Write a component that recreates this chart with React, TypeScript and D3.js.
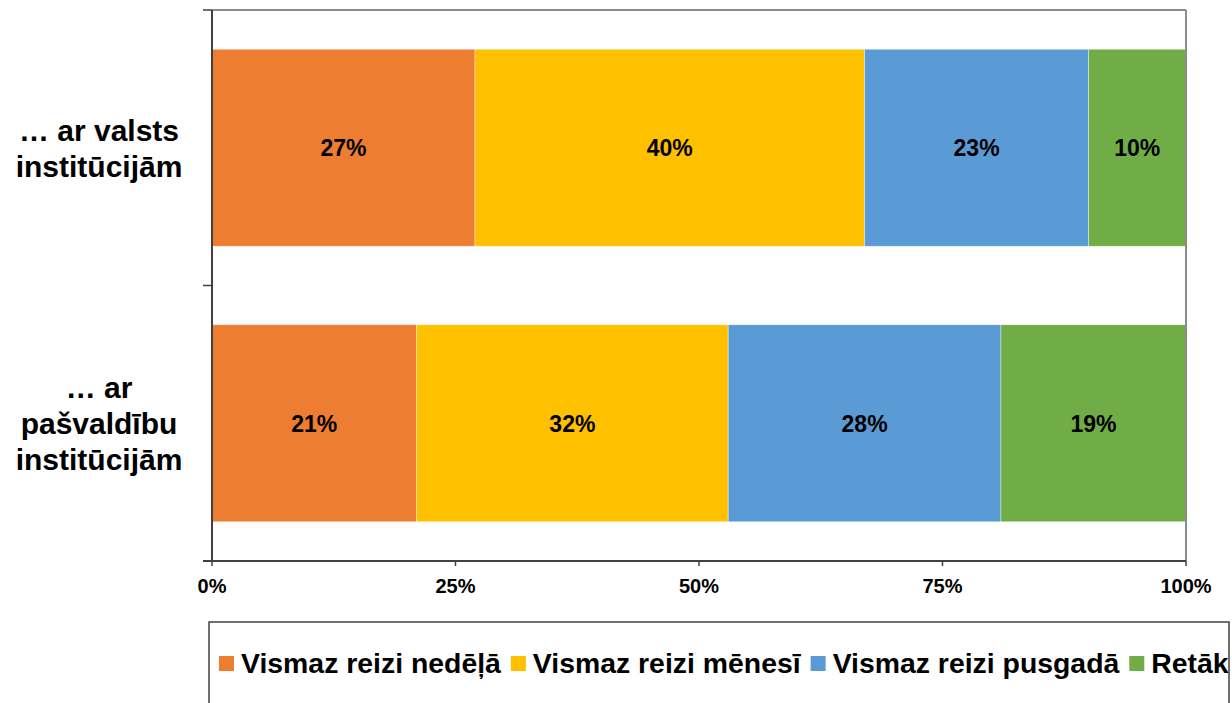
import React, { useEffect, useRef } from 'react';
import * as d3 from 'd3';

// chart data
const categories = ['valsts', 'pasvaldibu'];
const categoryLines = [
  ['… ar valsts', 'institūcijām'],
  ['… ar', 'pašvaldību', 'institūcijām'],
];
const seriesNames = ['Vismaz reizi nedēļā', 'Vismaz reizi mēnesī', 'Vismaz reizi pusgadā', 'Retāk'];
const seriesColors = ['#ED7D31', '#FFC000', '#5B9BD5', '#70AD47'];
const valstsValues = [27, 40, 23, 10];
const pasvaldibuValues = [21, 32, 28, 19];
const xTicks = [0, 25, 50, 75, 100];

const W = 1232;
const H = 703;
const FONT = '"Liberation Sans", Arial, sans-serif';

const App: React.FC = () => {
  const svgRef = useRef<SVGSVGElement>(null);

  useEffect(() => {
    if (!svgRef.current) return;
    const svg = d3.select(svgRef.current);
    svg.selectAll('*').remove();

    const plot = { left: 212, right: 1186, top: 10, bottom: 561 };

    const x = d3.scaleLinear().domain([0, 100]).range([plot.left, plot.right]);
    const y = d3.scaleBand<string>()
      .domain(categories)
      .range([plot.top, plot.bottom])
      .paddingInner(0.285)
      .paddingOuter(0.1425);

    const keys = seriesNames.map((_, i) => `s${i}`);
    const rows = [valstsValues, pasvaldibuValues].map((vals, ci) => {
      const r: any = { cat: categories[ci] };
      vals.forEach((v, i) => (r[`s${i}`] = v));
      return r;
    });
    const stacked = d3.stack<any>().keys(keys)(rows);

    svg.append('rect').attr('width', W).attr('height', H).attr('fill', '#fff');

    // bars
    stacked.forEach((layer, si) => {
      const g = svg.append('g');
      g.selectAll('rect')
        .data(layer)
        .enter()
        .append('rect')
        .attr('x', d => x(d[0]))
        .attr('y', d => y(d.data.cat)!)
        .attr('width', d => x(d[1]) - x(d[0]))
        .attr('height', y.bandwidth())
        .attr('fill', seriesColors[si])
        .attr('stroke', '#ffffff')
        .attr('stroke-opacity', 0.5)
        .attr('stroke-width', 0.75);

      g.selectAll('text')
        .data(layer)
        .enter()
        .append('text')
        .attr('x', d => (x(d[0]) + x(d[1])) / 2)
        .attr('y', d => y(d.data.cat)! + y.bandwidth() / 2)
        .attr('dy', '0.36em')
        .attr('text-anchor', 'middle')
        .attr('font-family', FONT)
        .attr('font-weight', 'bold')
        .attr('font-size', 23)
        .attr('fill', '#000')
        .text(d => `${d[1] - d[0]}%`);
    });

    // plot frame
    svg.append('line')
      .attr('x1', plot.left).attr('x2', plot.right)
      .attr('y1', plot.top).attr('y2', plot.top)
      .attr('stroke', '#8c8c8c').attr('stroke-width', 2);
    svg.append('line')
      .attr('x1', plot.right).attr('x2', plot.right)
      .attr('y1', plot.top).attr('y2', plot.bottom)
      .attr('stroke', '#8c8c8c').attr('stroke-width', 2);

    // y axis line + ticks at band boundaries
    svg.append('line')
      .attr('x1', plot.left).attr('x2', plot.left)
      .attr('y1', plot.top).attr('y2', plot.bottom)
      .attr('stroke', '#404040').attr('stroke-width', 2);
    const bounds = [plot.top, ...categories.slice(1).map(c => y(c)! - (y.step() - y.bandwidth()) / 2), plot.bottom];
    svg.selectAll('.ytick')
      .data(bounds)
      .enter()
      .append('line')
      .attr('x1', plot.left - 9).attr('x2', plot.left)
      .attr('y1', d => d).attr('y2', d => d)
      .attr('stroke', '#404040').attr('stroke-width', 1.5);

    // x axis
    svg.append('line')
      .attr('x1', plot.left - 9).attr('x2', plot.right)
      .attr('y1', plot.bottom).attr('y2', plot.bottom)
      .attr('stroke', '#404040').attr('stroke-width', 2);
    svg.selectAll('.xtick')
      .data(xTicks)
      .enter()
      .append('line')
      .attr('x1', d => x(d)).attr('x2', d => x(d))
      .attr('y1', plot.bottom).attr('y2', plot.bottom + 5)
      .attr('stroke', '#404040').attr('stroke-width', 1.5);
    svg.selectAll('.xlabel')
      .data(xTicks)
      .enter()
      .append('text')
      .attr('x', d => x(d))
      .attr('y', 593)
      .attr('text-anchor', 'middle')
      .attr('font-family', FONT)
      .attr('font-weight', 'bold')
      .attr('font-size', 20)
      .attr('fill', '#000')
      .text(d => `${d}%`);

    // category labels
    categories.forEach((c, ci) => {
      const lines = categoryLines[ci];
      const cy = y(c)! + y.bandwidth() / 2;
      const lh = 36;
      const t = svg.append('text')
        .attr('text-anchor', 'middle')
        .attr('font-family', FONT)
        .attr('font-weight', 'bold')
        .attr('font-size', 30)
        .attr('fill', '#000');
      lines.forEach((ln, li) => {
        t.append('tspan')
          .attr('x', 99)
          .attr('y', cy + (li - (lines.length - 1) / 2) * lh + 11)
          .text(ln);
      });
    });

    // legend
    const box = { x: 209, y: 622, w: 1020, h: 100 };
    svg.append('clipPath').attr('id', 'legclip')
      .append('rect').attr('x', box.x).attr('y', box.y).attr('width', box.w).attr('height', box.h);
    svg.append('rect')
      .attr('x', box.x).attr('y', box.y).attr('width', box.w).attr('height', box.h)
      .attr('fill', '#fff').attr('stroke', '#404040').attr('stroke-width', 1.5);
    const leg = svg.append('g').attr('clip-path', 'url(#legclip)');
    let lx = 219;
    seriesNames.forEach((name, i) => {
      leg.append('rect')
        .attr('x', lx).attr('y', 656).attr('width', 15).attr('height', 15)
        .attr('fill', seriesColors[i]);
      const txt = leg.append('text')
        .attr('x', lx + 22)
        .attr('y', 673)
        .attr('font-family', FONT)
        .attr('font-weight', 'bold')
        .attr('font-size', 28.4)
        .attr('fill', '#000')
        .text(name);
      const len = (txt.node() as SVGTextElement).getComputedTextLength();
      lx += 22 + len + 10;
    });
  }, []);

  return (
    <svg
      ref={svgRef}
      width={W}
      height={H}
      style={{ position: 'absolute', left: 0, top: 0, display: 'block' }}
    />
  );
};

export default App;
